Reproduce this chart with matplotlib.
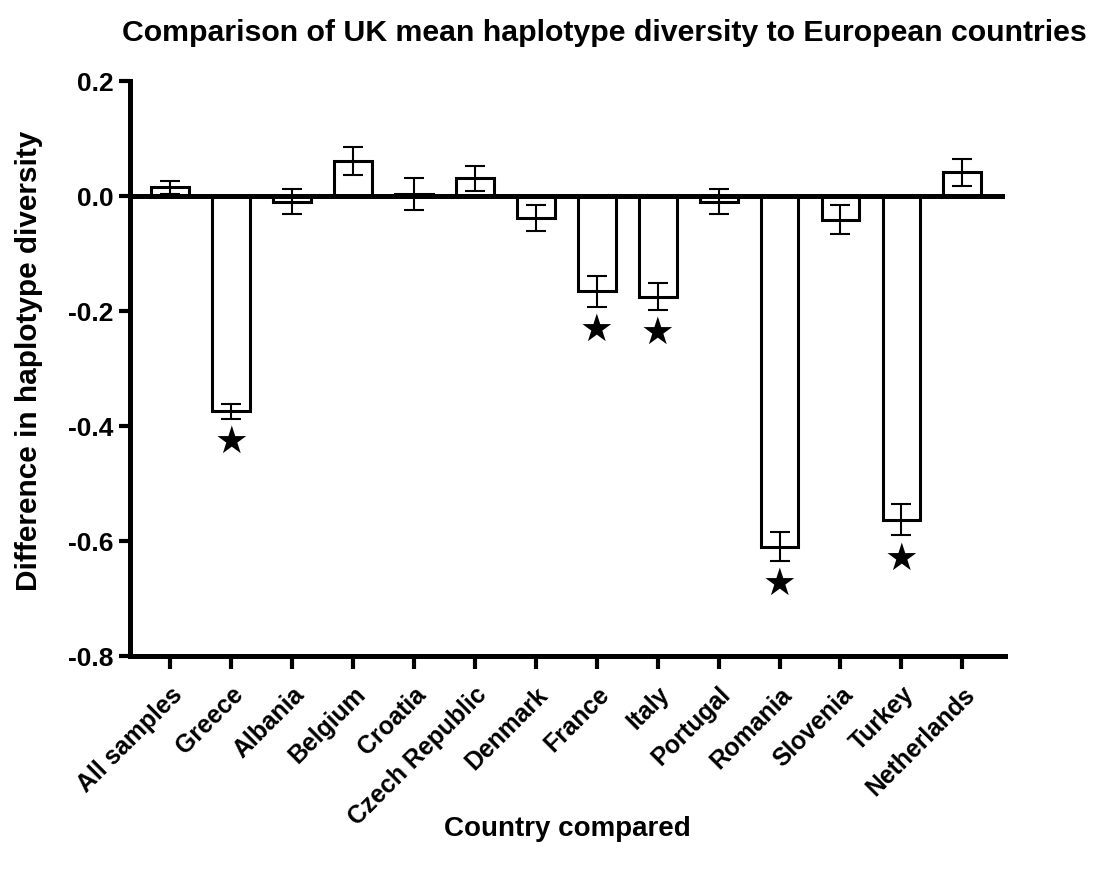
import numpy as np
import matplotlib.pyplot as plt

plt.rcParams['font.family'] = ['Liberation Sans', 'DejaVu Sans']
plt.rcParams['font.weight'] = 'bold'

# dados
paises = ["All samples", "Greece", "Albania", "Belgium", "Croatia", "Czech Republic",
          "Denmark", "France", "Italy", "Portugal", "Romania", "Slovenia", "Turkey", "Netherlands"]
diferenca = [0.015, -0.374, -0.010, 0.061, 0.003, 0.031, -0.038, -0.166, -0.175,
             -0.010, -0.610, -0.041, -0.563, 0.041]
erro = [0.011, 0.013, 0.022, 0.024, 0.028, 0.022, 0.023, 0.027, 0.023,
        0.022, 0.025, 0.025, 0.027, 0.023]
significativo = [False, True, False, False, False, False, False, True, True,
                 False, True, False, True, False]

x = np.arange(len(paises))

fig = plt.figure(figsize=(11.01, 8.72), dpi=100)
ax = fig.add_axes([130 / 1101, 1 - 656 / 872, 875 / 1101, (656 - 81) / 872])

ax.bar(x, diferenca, width=0.62, color="white", edgecolor="black", linewidth=2.2, zorder=2)
ax.errorbar(x, diferenca, yerr=erro, fmt="none", ecolor="black", elinewidth=1.5,
            capsize=7, capthick=1.5, zorder=3)
ax.axhline(0, color="black", linewidth=3.6, zorder=4)

# estrelas de significancia
for xi, v, e, s in zip(x, diferenca, erro, significativo):
    if s:
        ax.text(xi, v - e - 0.042, "★", ha="center", va="center", fontsize=27,
                family=["DejaVu Sans"], zorder=5)

ax.set_xlim(-0.66, 13.7)
ax.set_ylim(-0.8, 0.2)
ax.set_yticks([-0.8, -0.6, -0.4, -0.2, 0.0, 0.2])
ax.set_yticklabels(["-0.8", "-0.6", "-0.4", "-0.2", "0.0", "0.2"])
ax.set_xticks(x)
ax.set_xticklabels(paises, rotation=45, ha="right", rotation_mode="anchor")

for lado in ["top", "right"]:
    ax.spines[lado].set_visible(False)
for lado in ["left", "bottom"]:
    ax.spines[lado].set_linewidth(3.6)
ax.tick_params(axis="both", width=3, length=8, pad=4)
ax.tick_params(axis="y", labelsize=19)
ax.tick_params(axis="x", length=9, pad=10, labelsize=17.8)

ax.set_ylabel("Difference in haplotype diversity", fontsize=21.4, fontweight="bold",
              va="center", ha="center")
ax.yaxis.set_label_coords(-0.1154, 0.513)
ax.set_xlabel("Country compared", fontsize=20, fontweight="bold", va="center")
ax.xaxis.set_label_coords(0.5, -0.301)
fig.text(604 / 1101, 1 - 33 / 872, "Comparison of UK mean haplotype diversity to European countries",
         ha="center", va="center", fontsize=21.8, fontweight="bold")

plt.savefig("out.png", dpi=100)
